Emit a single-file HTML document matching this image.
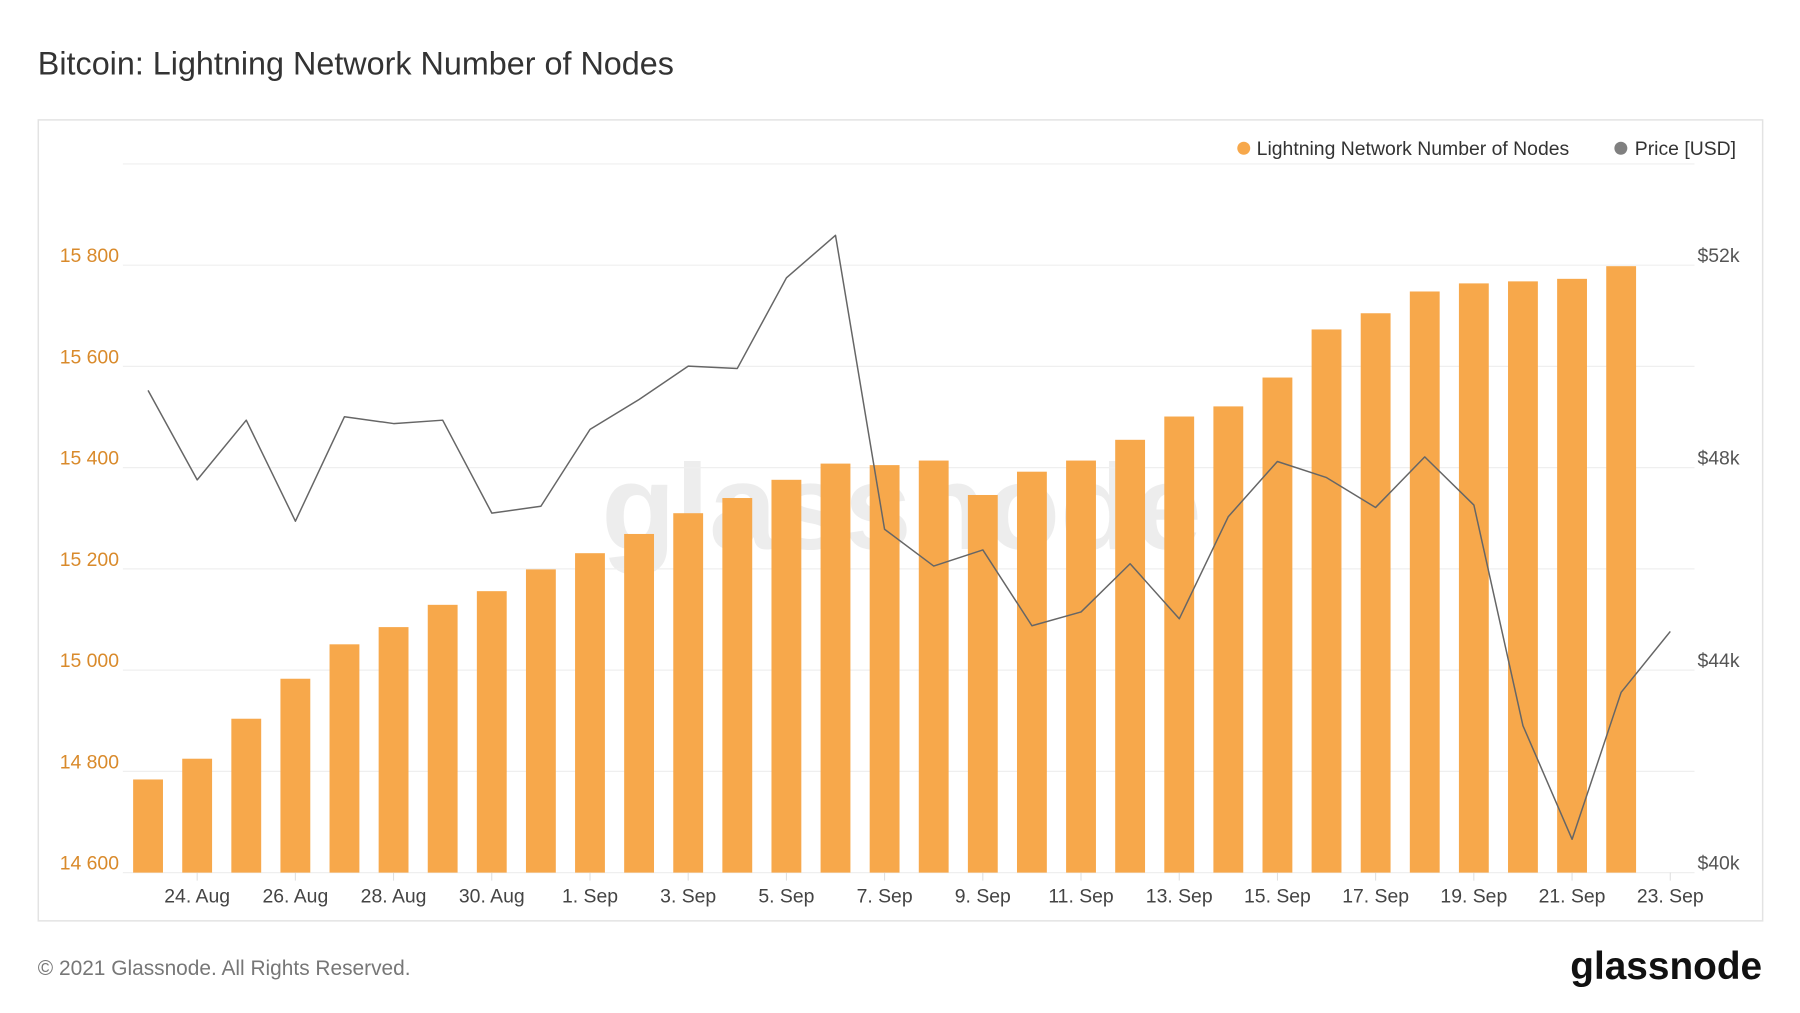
<!DOCTYPE html>
<html><head><meta charset="utf-8"><style>
body{margin:0;background:#fff;}
svg{display:block;font-family:"Liberation Sans",sans-serif;}
</style></head><body>
<svg id="chart" width="1800" height="1013" viewBox="0 0 1800 1013">
<g transform="scale(0.995)">
<text x="38" y="75" font-size="32.5" fill="#333">Bitcoin: Lightning Network Number of Nodes</text>
<rect x="38.5" y="120.5" width="1733" height="805" fill="none" stroke="#e3e3e3" stroke-width="1.5"/>
<text x="906" y="552" font-size="122" font-weight="bold" fill="#000" fill-opacity="0.07" text-anchor="middle">glassnode</text>
<g id="grid"></g><g id="bars"></g><g id="line"></g><g id="axes"></g>
<g>
<circle cx="1250" cy="149" r="6.5" fill="#f7a84b"/>
<text x="1263" y="156" font-size="19.5" fill="#333">Lightning Network Number of Nodes</text>
<circle cx="1629" cy="149" r="6.5" fill="#808080"/>
<text x="1643" y="156" font-size="19.5" fill="#333">Price [USD]</text>
</g>
<text x="38" y="980" font-size="21" fill="#777">© 2021 Glassnode. All Rights Reserved.</text>
<text x="1771" y="984" font-size="39" font-weight="bold" fill="#111" text-anchor="end">glassnode</text>
</g>
</svg>
<script>
const nodes=[14784,14825,14904,14983,15051,15085,15129,15156,15199,15231,15269,15310,15340,15376,15408,15405,15414,15346,15392,15414,15455,15501,15521,15578,15673,15705,15748,15764,15768,15773,15798];
const prices=[49528,47758,48938,46942,49006,48870,48938,47101,47237,48757,49347,50005,49960,51751,52590,46783,46057,46375,44877,45150,46102,45014,47033,48122,47804,47214,48212,47260,42904,40658,43562,44764];
const leftTicks=[14600,14800,15000,15200,15400,15600,15800];
const leftTickLabels=["14 600","14 800","15 000","15 200","15 400","15 600","15 800"];
const rightTicks=[40000,44000,48000,52000];
const rightTickLabels=["$40k","$44k","$48k","$52k"];
const xTickDays=[1,3,5,7,9,11,13,15,17,19,21,23,25,27,29,31];
const xTickLabels=["24. Aug","26. Aug","28. Aug","30. Aug","1. Sep","3. Sep","5. Sep","7. Sep","9. Sep","11. Sep","13. Sep","15. Sep","17. Sep","19. Sep","21. Sep","23. Sep"];

const NS="http://www.w3.org/2000/svg";
const x0=148.8,dx=49.35,yBase=877,yTop=266.5,plotL=123.5,plotR=1703;
const xS=i=>x0+i*dx;
const yL=v=>yBase-(v-14600)/(15800-14600)*(yBase-yTop);
const yR=v=>yBase-(v-40000)/(52000-40000)*(yBase-yTop);
function mk(tag,attrs,parent){const e=document.createElementNS(NS,tag);for(const k in attrs)e.setAttribute(k,attrs[k]);parent.appendChild(e);return e;}
const grid=document.getElementById('grid'),bars=document.getElementById('bars'),line=document.getElementById('line'),axes=document.getElementById('axes');
const gvals=leftTicks.concat([16000]);
gvals.forEach(v=>{const l=mk('line',{x1:plotL,x2:plotR,y1:yL(v),y2:yL(v),stroke:'#efefef','stroke-width':1.2},grid);

});
leftTicks.forEach((v,i)=>{const t=mk('text',{x:60,y:yL(v)-3,'font-size':19.5,fill:'#d98a2b'},axes);t.textContent=leftTickLabels[i];

});
rightTicks.forEach((v,i)=>{const t=mk('text',{x:1706,y:yR(v)-3,'font-size':19.5,fill:'#555'},axes);t.textContent=rightTickLabels[i];

});
xTickDays.forEach((d,i)=>{const x=xS(d);
const tk=mk('line',{x1:x,x2:x,y1:yBase,y2:yBase+8,stroke:'#ddd'},axes);


const t=mk('text',{x:x,y:907,'font-size':19.5,fill:'#444','text-anchor':'middle'},axes);t.textContent=xTickLabels[i];

});
nodes.forEach((v,i)=>{const y=yL(v);const r=mk('rect',{x:xS(i)-15,y:y,width:30,height:yBase-y,fill:'#f7a84b'},bars);

});
const pts=prices.map((p,i)=>xS(i).toFixed(1)+','+yR(p).toFixed(1)).join(' ');
const pl=mk('polyline',{points:pts,fill:'none',stroke:'#666','stroke-width':1.5,'stroke-linejoin':'round'},line);


</script>
</body></html>
